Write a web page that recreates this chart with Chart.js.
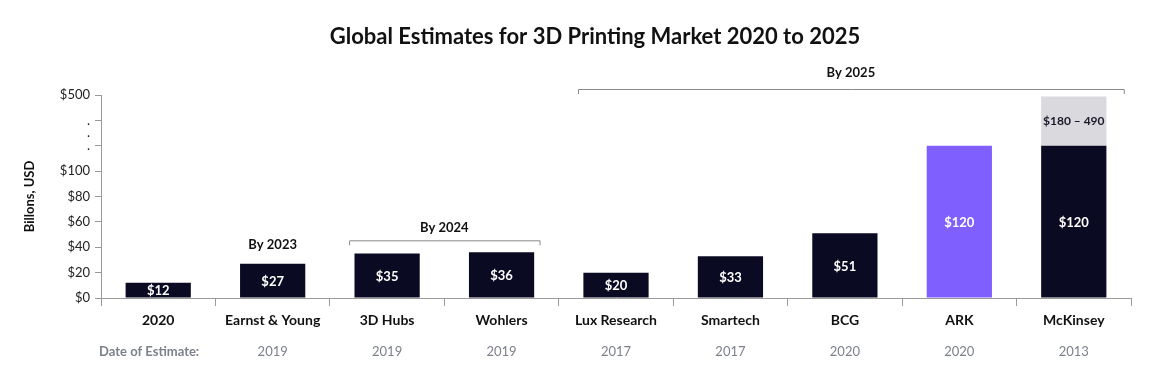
<!DOCTYPE html>
<html>
<head>
<meta charset="utf-8">
<script src="https://cdn.jsdelivr.net/npm/chart.js@4.4.1/dist/chart.umd.min.js"></script>
<style>
  html, body { margin: 0; padding: 0; background: #fff; }
  #wrap { width: 1154px; height: 368px; position: relative; }
</style>
</head>
<body>
<div id="wrap"><canvas id="myChart"></canvas></div>
<script>
// data
var chartTitle = "Global Estimates for 3D Printing Market 2020 to 2025";
var companies = ["2020", "Earnst & Young", "3D Hubs", "Wohlers", "Lux Research", "Smartech", "BCG", "ARK", "McKinsey"];
var estimateYears = ["", "2019", "2019", "2019", "2017", "2017", "2020", "2020", "2013"];
var marketValues = [12, 27, 35, 36, 20, 33, 51, 120, 120];
var rangeLow = [null, null, null, null, null, null, null, null, 180];
var rangeHigh = [null, null, null, null, null, null, null, null, 490];
var yTickValues = [0, 20, 40, 60, 80, 100];
var yTopLabel = 500;
// target year groups: label, first index, last index
var groups = [
    { label: "By 2023", from: 1, to: 1, bracket: false },
    { label: "By 2024", from: 2, to: 3, bracket: true },
    { label: "By 2025", from: 4, to: 8, bracket: true }
];

var DARK = '#0b0a23';
var PURPLE = '#7f60fe';
var FONT = 'Lato, "Open Sans", sans-serif';

// broken axis: 0-120 is linear, 180-500 squeezed into the top part
function toAxis(v) {
    if (v == null) return null;
    if (v <= 120) return v;
    return 120 + (v - 180) / (yTopLabel - 180) * 40;
}

var barData = marketValues.map(function(v) { return toAxis(v); });
var rangeData = rangeLow.map(function(lo, i) {
    if (lo == null) return null;
    return [toAxis(lo), toAxis(rangeHigh[i])];
});

var annotations = {
    id: 'annotations',
    afterDraw: function(chart) {
        var ctx = chart.ctx;
        var x = chart.scales.x;
        var y = chart.scales.y;
        var meta0 = chart.getDatasetMeta(0);
        var meta1 = chart.getDatasetMeta(1);
        ctx.save();
        ctx.textAlign = 'center';
        ctx.textBaseline = 'middle';

        // title
        ctx.fillStyle = '#111111';
        ctx.font = 'bold 22px ' + FONT;
        ctx.fillText(chartTitle, 595, 37);

        // values inside bars
        meta0.data.forEach(function(bar, i) {
            var mid = (bar.y + bar.base) / 2;
            ctx.fillStyle = '#ffffff';
            ctx.font = 'bold 13px ' + FONT;
            ctx.fillText('$' + marketValues[i], bar.x, mid + 1);
        });
        meta1.data.forEach(function(bar, i) {
            if (rangeLow[i] == null) return;
            ctx.fillStyle = '#1a1a2a';
            ctx.font = 'bold 12px ' + FONT;
            ctx.fillText('$' + rangeLow[i] + ' \u2013 ' + rangeHigh[i], bar.x, (bar.y + bar.base) / 2);
        });

        // group labels and brackets
        groups.forEach(function(g) {
            var x1 = x.getPixelForValue(g.from) - 38;
            var x2 = x.getPixelForValue(g.to) + (g.to === 8 ? 50 : 38);
            var tallest = 0;
            for (var k = g.from; k <= g.to; k++) {
                if (rangeHigh[k] != null) tallest = Math.max(tallest, toAxis(rangeHigh[k]));
                tallest = Math.max(tallest, barData[k]);
            }
            var top = y.getPixelForValue(tallest);
            var lineY, textY;
            if (g.to === 8) { lineY = 89; textY = 73; }
            else { lineY = top - 12; textY = lineY - 13; }
            if (g.bracket) {
                ctx.strokeStyle = '#8a8a8a';
                ctx.lineWidth = 1;
                ctx.beginPath();
                ctx.moveTo(x1 + 0.5, lineY + 5);
                ctx.lineTo(x1 + 0.5, lineY + 0.5);
                ctx.lineTo(x2 + 0.5, lineY + 0.5);
                ctx.lineTo(x2 + 0.5, lineY + 5);
                ctx.stroke();
            } else {
                textY = top - 19;
            }
            ctx.fillStyle = '#111111';
            ctx.font = 'bold 13px ' + FONT;
            ctx.fillText(g.label, (x1 + x2) / 2, textY);
        });

        // date of estimate row
        ctx.font = '13px ' + FONT;
        ctx.fillStyle = '#7d818c';
        estimateYears.forEach(function(yr, i) {
            if (!yr) return;
            ctx.fillText(yr, x.getPixelForValue(i), 352);
        });
        ctx.font = 'bold 13px ' + FONT;
        ctx.textAlign = 'right';
        ctx.fillText('Date of Estimate:', x.getPixelForValue(0) + 41, 352);
        ctx.restore();
    }
};

var ctx = document.getElementById('myChart').getContext('2d');
var chart = new Chart(ctx, {
    type: 'bar',
    data: {
        labels: companies,
        datasets: [{
            data: barData,
            backgroundColor: companies.map(function(c, i) { return i === 7 ? PURPLE : DARK; }),
            barPercentage: 0.57,
            categoryPercentage: 1.0,
            stack: 's'
        }, {
            data: rangeData,
            backgroundColor: '#d9d9de',
            barPercentage: 0.57,
            categoryPercentage: 1.0,
            stack: 's2'
        }]
    },
    options: {
        responsive: true,
        maintainAspectRatio: false,
        animation: false,
        grouped: false,
        layout: { padding: { left: 0, right: 23, top: 95, bottom: 0 } },
        plugins: {
            legend: { display: false },
            tooltip: { enabled: false },
            title: { display: false }
        },
        scales: {
            x: {
                grid: { display: true, drawOnChartArea: false, offset: true, tickLength: 8, color: '#9a9a9a' },
                border: { color: '#9a9a9a' },
                ticks: {
                    color: '#111111',
                    padding: 6,
                    font: { family: FONT, size: 14, weight: 'bold' },
                    maxRotation: 0
                },
                afterFit: function(scale) { scale.height = 70; }
            },
            y: {
                min: 0,
                max: 160,
                afterBuildTicks: function(scale) {
                    var vals = yTickValues.concat([120, 130, 140, 160]);
                    scale.ticks = vals.map(function(v) { return { value: v }; });
                },
                afterFit: function(scale) { scale.width = 101; },
                grid: {
                    drawOnChartArea: false,
                    tickLength: 6,
                    tickColor: function(c) { return c.tick && c.tick.value === 130 ? 'rgba(0,0,0,0)' : '#9a9a9a'; }
                },
                border: { color: '#9a9a9a' },
                ticks: {
                    color: '#222222',
                    padding: 5,
                    font: { family: FONT, size: 13 },
                    callback: function(v) {
                        if (v === 160) return '$' + yTopLabel;
                        if (v > 100) return '.';
                        return '$' + v;
                    }
                },
                title: {
                    display: true,
                    text: 'Billons, USD',
                    color: '#111111',
                    font: { family: FONT, size: 13, weight: 'bold' },
                    padding: { top: 22, bottom: 0 }
                }
            }
        }
    },
    plugins: [annotations]
});
</script>
</body>
</html>
